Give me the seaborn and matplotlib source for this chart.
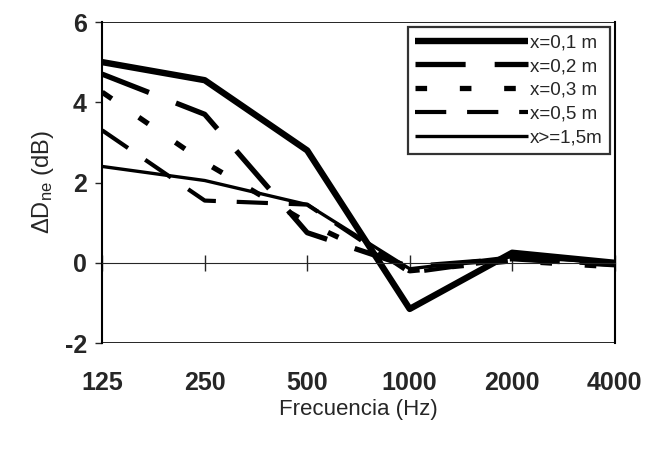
import pandas as pd
import matplotlib
matplotlib.use('Agg')
import matplotlib.pyplot as plt
import seaborn as sns

# Data
frecuencias = ['125', '250', '500', '1000', '2000', '4000']
x_01 = [5.0, 4.55, 2.8, -1.15, 0.25, 0.0]
x_02 = [4.7, 3.7, 0.75, -0.1, 0.1, -0.05]
x_03 = [4.25, 2.5, 1.0, -0.2, 0.05, -0.1]
x_05 = [3.3, 1.55, 1.45, -0.25, 0.1, -0.05]
x_15 = [2.4, 2.05, 1.45, -0.15, 0.15, 0.0]
etiquetas = ['x=0,1 m', 'x=0,2 m', 'x=0,3 m', 'x=0,5 m', 'x>=1,5m']

sns.set_style('white')
plt.rcParams['font.family'] = ['Liberation Sans', 'DejaVu Sans']
plt.rcParams['mathtext.fontset'] = 'custom'
plt.rcParams['mathtext.rm'] = 'Liberation Sans'
plt.rcParams['mathtext.it'] = 'Liberation Sans:italic'
plt.rcParams['axes.unicode_minus'] = False

series = [x_01, x_02, x_03, x_05, x_15]
estilos = [
    dict(lw=4.6, ls='-'),
    dict(lw=3.8, ls=(0, (9.5, 5.5))),
    dict(lw=3.8, ls=(0, (2.2, 6.2))),
    dict(lw=3.0, ls=(0, (7.5, 5.0))),
    dict(lw=2.4, ls='-'),
]

fig, ax = plt.subplots(figsize=(6.47, 4.49), dpi=100)
fig.subplots_adjust(left=0.158, right=0.950, top=0.951, bottom=0.236)

for vals, lab, st in zip(series, etiquetas, estilos):
    df = pd.DataFrame({'Frecuencia': frecuencias, 'dD': vals})
    sns.lineplot(data=df, x='Frecuencia', y='dD', ax=ax, sort=False,
                 color='black', linewidth=st['lw'], linestyle=st['ls'],
                 label=lab, solid_capstyle='butt', dash_capstyle='butt')

ax.set_xlim(0, len(frecuencias) - 1)
ax.set_ylim(-2, 6)
ax.set_yticks([-2, 0, 2, 4, 6])

# x axis crosses at zero, labels at the bottom
ax.spines['bottom'].set_position(('data', 0))
ax.spines['bottom'].set_linewidth(0.8)
ax.axhline(-2, color='black', lw=1.2)
for s in ['left', 'right', 'top']:
    ax.spines[s].set_color('black')
ax.spines['left'].set_linewidth(1.5)
ax.spines['right'].set_linewidth(1.5)
ax.spines['top'].set_linewidth(0.6)

ax.tick_params(axis='x', direction='inout', length=12, width=1, pad=72,
               labelsize=18, bottom=True)
ax.tick_params(axis='y', direction='out', length=5, width=1, pad=6,
               labelsize=18, left=True)
for t in ax.get_xticklabels() + ax.get_yticklabels():
    t.set_fontweight('bold')

ax.set_xlabel('Frecuencia (Hz)', fontsize=16, labelpad=3)
ax.set_ylabel(r'$\Delta$D$_{\mathrm{ne}}$ (dB)', fontsize=17, labelpad=6)

leg = ax.legend(loc='upper right', borderaxespad=0.25, fontsize=13.5,
                handlelength=6.0, handletextpad=0.1, labelspacing=0.35,
                frameon=True, fancybox=False, borderpad=0.4)
leg.get_frame().set_edgecolor('black')
leg.get_frame().set_linewidth(1.6)

fig.savefig('out.png', dpi=100)
